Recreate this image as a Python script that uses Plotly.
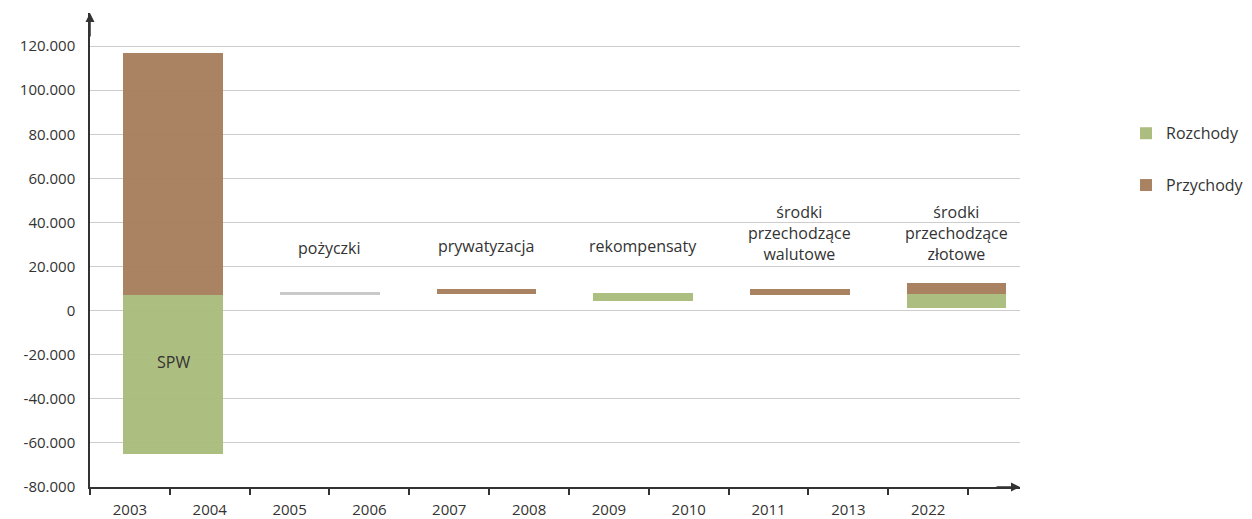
import plotly.graph_objects as go

# ---- data ----
year_labels = ["2003", "2004", "2005", "2006", "2007", "2008", "2009", "2010", "2011", "2013", "2022"]
categories = ["SPW", "pożyczki", "prywatyzacja", "rekompensaty",
              "środki<br>przechodzące<br>walutowe", "środki<br>przechodzące<br>złotowe"]
rozchody_low = [-65000, None, None, 4500, None, 1000]
rozchody_high = [7000, None, None, 8000, None, 7500]
przychody_low = [7000, None, 7400, None, 7300, 7500]
przychody_high = [117000, None, 9800, None, 10000, 12500]
pozyczki_low = [None, 7300, None, None, None, None]
pozyczki_high = [None, 8500, None, None, None, None]
y_ticks = [-80000, -60000, -40000, -20000, 0, 20000, 40000, 60000, 80000, 100000, 120000]
y_ticktext = ["-80.000", "-60.000", "-40.000", "-20.000", "0", "20.000", "40.000",
              "60.000", "80.000", "100.000", "120.000"]

GREEN = "#a9ba7a"
BROWN = "#a57c5a"
GRAY = "#c6c6c6"
FONT = "Open Sans"
TXT = "#333333"

# bar centres (in axis units; one unit = one year slot)
xs = [1.04 + 1.963 * i for i in range(len(categories))]
BW = 1.25


def seg(low, high):
    return [None if (a is None or b is None) else b - a for a, b in zip(low, high)]


fig = go.Figure()
fig.add_trace(go.Bar(x=xs, y=seg(rozchody_low, rozchody_high), base=rozchody_low,
                     width=BW, marker=dict(color=GREEN, line=dict(width=0)),
                     name="Rozchody", legendgroup="a", opacity=0.95))
fig.add_trace(go.Bar(x=xs, y=seg(przychody_low, przychody_high), base=przychody_low,
                     width=BW, marker=dict(color=BROWN, line=dict(width=0)),
                     name="Przychody", legendgroup="b", opacity=0.95))
fig.add_trace(go.Bar(x=xs, y=seg(pozyczki_low, pozyczki_high), base=pozyczki_low,
                     width=BW, marker=dict(color=GRAY, line=dict(width=0)),
                     name="pożyczki", showlegend=False, opacity=0.95))

# category labels
label_y = [-23500, 28500, 29500, 29500, 35000, 35000]
for i, (c, ly) in enumerate(zip(categories, label_y)):
    fig.add_annotation(x=xs[i], y=ly, text=c, showarrow=False,
                       font=dict(family=FONT, size=16, color=TXT), align="center")

X_MAX = 11.65
Y_MAX = 135000
# axis arrows
fig.add_annotation(x=0, y=Y_MAX, ax=0, ay=25, xref="x", yref="y", text="",
                   showarrow=True, arrowhead=2, arrowsize=1.2, arrowwidth=1.5, arrowcolor="#333")
fig.add_annotation(x=X_MAX, y=-80000, ax=-25, ay=0, xref="x", yref="y", text="",
                   showarrow=True, arrowhead=2, arrowsize=1.2, arrowwidth=1.5, arrowcolor="#333")

fig.update_layout(
    width=1252, height=519,
    margin=dict(l=90, r=232, t=13, b=32, autoexpand=False),
    paper_bgcolor="white", plot_bgcolor="white",
    barmode="overlay", bargap=0,
    font=dict(family=FONT, size=15, color=TXT),
    legend=dict(x=1.114, y=0.782, xanchor="left", yanchor="top",
                font=dict(family=FONT, size=16, color=TXT),
                tracegroupgap=28, traceorder="grouped", bgcolor="rgba(0,0,0,0)"),
    xaxis=dict(range=[0, X_MAX], showgrid=False, zeroline=False, automargin=False,
               showline=True, linecolor="#333", linewidth=1.5,
               tickmode="array", tickvals=[i + 0.5 for i in range(len(year_labels))],
               ticktext=year_labels, ticks="", ticklabelstandoff=8,
               tickfont=dict(size=15, color=TXT),
               minor=dict(tickmode="array", tickvals=list(range(12)), ticks="outside",
                          ticklen=6, tickwidth=1.5, tickcolor="#333", showgrid=False)),
    yaxis=dict(range=[-80000, Y_MAX], showgrid=True, gridcolor="#cccccc", gridwidth=1,
               zeroline=False, showline=True, linecolor="#333", linewidth=1.5, automargin=False,
               tickmode="array", tickvals=y_ticks, ticktext=y_ticktext, ticks="",
               ticklabelstandoff=10, tickfont=dict(size=15, color=TXT)),
)

fig.write_html("out.html")
